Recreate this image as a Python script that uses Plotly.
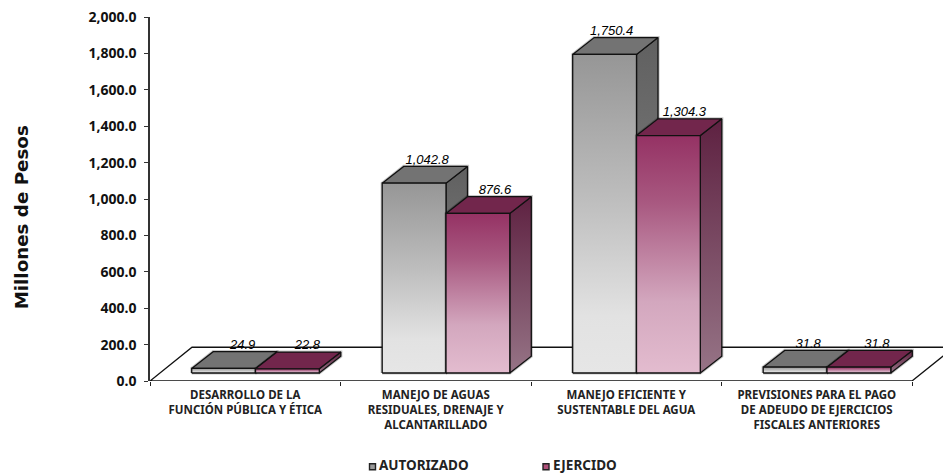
import plotly.graph_objects as go

# ---- data ----
categories = [
    "DESARROLLO DE LA<br>FUNCIÓN PÚBLICA Y ÉTICA",
    "MANEJO DE AGUAS<br>RESIDUALES, DRENAJE Y<br>ALCANTARILLADO",
    "MANEJO EFICIENTE Y<br>SUSTENTABLE DEL AGUA",
    "PREVISIONES PARA EL PAGO<br>DE ADEUDO DE EJERCICIOS<br>FISCALES ANTERIORES",
]
autorizado = [24.9, 1042.8, 1750.4, 31.8]
ejercido = [22.8, 876.6, 1304.3, 31.8]
y_ticks = [0, 200, 400, 600, 800, 1000, 1200, 1400, 1600, 1800, 2000]

# ---- geometry (category units / value units) ----
W, H = 943, 474
L, T, R0, B0 = 150, 17.3, 943, 381
PX = 190.5              # px per category
PY = (B0 - T) / 2000    # px per value
ux = lambda px: px / PX
uy = lambda px: px / PY
bar_w = ux(63.8)
base_y = uy(8)
gap_left = ux(41.7)
dep_x, dep_y = ux(21.5), uy(16.8)
floor_x, floor_y = ux(42), uy(33.7)

EDGE = "#111111"
styles = {
    "AUTORIZADO": dict(
        front=[[0, "#e6e6e6"], [0.18, "#e2e2e2"], [0.55, "#bdbdbd"], [1, "#969696"]],
        side=[[0, "#8c8c8c"], [1, "#606060"]],
        top="#737373",
        key="#9a9a9a",
    ),
    "EJERCIDO": dict(
        front=[[0, "#e3bccf"], [0.3, "#d3a7be"], [0.72, "#a85880"], [1, "#953264"]],
        side=[[0, "#967486"], [1, "#5e2141"]],
        top="#72264c",
        key="#b0507a",
    ),
}

fig = go.Figure()

def poly(xs, ys, fill=None, grad=None, width=1.3):
    kw = dict(fillcolor=fill) if fill else dict(
        fillgradient=dict(type="vertical", colorscale=grad))
    fig.add_trace(go.Scatter(
        x=xs + xs[:1], y=ys + ys[:1], mode="lines", fill="toself",
        line=dict(color=EDGE, width=width), showlegend=False,
        hoverinfo="skip", cliponaxis=False, **kw))

# floor
poly([0, 4, 4 + floor_x, floor_x], [0, 0, floor_y, floor_y], fill="#ffffff", width=1.3)

def bar(x0, v, st):
    y0 = base_y
    y1 = base_y + v
    x1 = x0 + bar_w
    # soft outline shadow
    fig.add_trace(go.Scatter(
        x=[x0, x1, x1 + dep_x, x1 + dep_x, x0 + dep_x, x0, x0],
        y=[y0, y0, y0 + dep_y, y1 + dep_y, y1 + dep_y, y1, y0],
        mode="lines", line=dict(color="rgba(0,0,0,0.22)", width=3.2),
        showlegend=False, hoverinfo="skip", cliponaxis=False))
    poly([x1, x1 + dep_x, x1 + dep_x, x1], [y0, y0 + dep_y, y1 + dep_y, y1], grad=st["side"])
    poly([x0, x1, x1 + dep_x, x0 + dep_x], [y1, y1, y1 + dep_y, y1 + dep_y], fill=st["top"])
    poly([x0, x1, x1, x0], [y0, y0, y1, y1], grad=st["front"])

nudge_a = [19, 13, 7, 13]
nudge_e = [20, 17, 16, 18]
lx, ly, lt = [], [], []
for i, (a, e) in enumerate(zip(autorizado, ejercido)):
    xa = i + gap_left
    xe = xa + bar_w
    bar(xa, a, styles["AUTORIZADO"])
    bar(xe, e, styles["EJERCIDO"])
    lx += [xa + bar_w / 2 + ux(nudge_a[i]), xe + bar_w / 2 + ux(nudge_e[i])]
    ly += [base_y + a + dep_y + uy(6), base_y + e + dep_y + uy(6)]
    lt += [f"{a:,.1f}", f"{e:,.1f}"]

fig.add_trace(go.Scatter(
    x=lx, y=ly, text=lt, mode="text", textposition="middle center",
    textfont=dict(family="Liberation Sans", size=13, style="italic", color="#000"),
    showlegend=False, hoverinfo="skip", cliponaxis=False))

# legend keys and names (page pixels -> paper fractions)
pw, ph = R0 - L, B0 - T
fx = lambda px: (px - L) / pw
fy = lambda py: (B0 - py) / ph
annotations = [dict(
    text="<b>Millones de Pesos</b>", textangle=-90, xref="paper", yref="paper",
    x=fx(21), y=fy(217.5), xanchor="center", yanchor="middle", showarrow=False,
    font=dict(family="DejaVu Sans", size=18.3, color="#111"),
)]
shapes = []
for name, px_x in (("AUTORIZADO", 372.5), ("EJERCIDO", 546)):
    shapes.append(dict(
        type="rect", xref="paper", yref="paper",
        x0=fx(px_x - 3), x1=fx(px_x + 3), y0=fy(469.7), y1=fy(463.7),
        fillcolor=styles[name]["key"], line=dict(color="#222", width=1.4)))
    annotations.append(dict(
        text=name, xref="paper", yref="paper", x=fx(px_x + 5.5), y=fy(464.5),
        xanchor="left", yanchor="middle", showarrow=False, borderpad=0,
        font=dict(family="Noto Sans", size=13.5, weight=700, color="#222")))

fig.update_layout(
    width=W, height=H, autosize=False,
    margin=dict(l=L, r=W - R0, t=T, b=H - B0, pad=0),
    paper_bgcolor="white", plot_bgcolor="white", showlegend=False,
    xaxis=dict(
        range=[0, (R0 - L) / PX], showgrid=False, zeroline=False, showline=False,
        tickmode="array", tickvals=[i + 0.5 for i in range(4)], ticktext=categories,
        ticks="outside", ticklen=3, tickcolor="rgba(0,0,0,0)", tickangle=0,
        tickfont=dict(family="Noto Sans", size=11.5, weight=700, color="#222"),
        minor=dict(tickmode="array", tickvals=[0, 1, 2, 3, 4], ticks="outside",
                   ticklen=4, tickcolor="#222", tickwidth=1.2),
    ),
    yaxis=dict(
        range=[0, 2000], tickmode="array", tickvals=y_ticks,
        ticktext=[f"{v:,.1f}" for v in y_ticks], showgrid=False, zeroline=False,
        showline=True, linecolor="#333", linewidth=1.5, ticks="outside",
        ticklen=4, tickcolor="#333", ticklabeloverflow="allow", ticklabelstandoff=5,
        tickfont=dict(family="Noto Sans", size=14, weight=700, color="#111"),
    ),
    annotations=annotations,
    shapes=shapes,
)

fig.write_html("out.html", config=dict(displayModeBar=False),
               post_script="document.body.style.margin='0';")
